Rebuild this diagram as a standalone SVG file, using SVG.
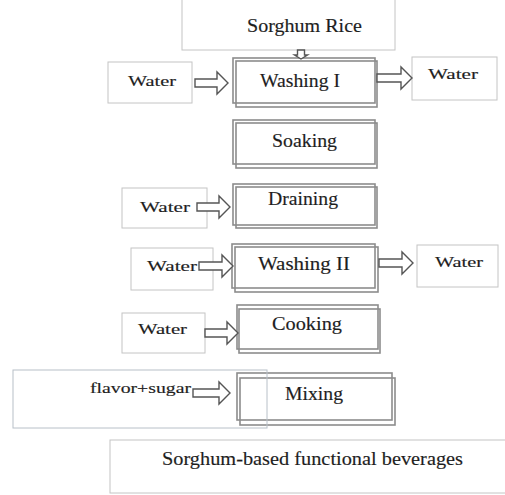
<svg xmlns="http://www.w3.org/2000/svg" width="505" height="495" viewBox="0 0 505 495">
<defs>
<style>
.side{fill:none;stroke:#c4c4c4;stroke-width:1}
.proc{fill:none;stroke:#8c8c8c;stroke-width:1.6}
.arr{fill:#fff;stroke:#555;stroke-width:1.4;stroke-linejoin:miter}
text{font-family:"Liberation Serif","Times New Roman",serif;fill:#1e1e1e;stroke:#1e1e1e;stroke-width:0.15}
.t18{font-size:18px}
.t15{font-size:15px}
.t14{font-size:14px}
</style>
</defs>
<rect width="505" height="495" fill="#fff"/>

<g id="sorghum-rice">
<rect class="side" x="182" y="-1" width="213" height="51"/>
<text class="t18" x="247" y="32" textLength="115" lengthAdjust="spacingAndGlyphs">Sorghum Rice</text>
</g>

<g id="washing1">
<rect class="proc" x="233" y="58" width="142" height="45"/>
<rect class="proc" x="236" y="61" width="141" height="46"/>
<text class="t18" x="260" y="87" textLength="80" lengthAdjust="spacingAndGlyphs">Washing I</text>
</g>
<g id="water-in1">
<rect class="side" x="108" y="62" width="84" height="41"/>
<text class="t15" x="128" y="86" textLength="48" lengthAdjust="spacingAndGlyphs">Water</text>
</g>
<g id="water-out1">
<rect class="side" x="412" y="57" width="85" height="43"/>
<text class="t15" x="428" y="79" textLength="50" lengthAdjust="spacingAndGlyphs">Water</text>
</g>

<g id="soaking">
<rect class="proc" x="233" y="120" width="142" height="44"/>
<rect class="proc" x="236" y="123" width="141" height="45"/>
<text class="t18" x="272" y="147" textLength="65" lengthAdjust="spacingAndGlyphs">Soaking</text>
</g>

<g id="draining">
<rect class="proc" x="233" y="184" width="142" height="41"/>
<rect class="proc" x="236" y="187" width="141" height="41"/>
<text class="t18" x="268" y="205" textLength="70" lengthAdjust="spacingAndGlyphs">Draining</text>
</g>
<g id="water-in2">
<rect class="side" x="122" y="188" width="85" height="40"/>
<text class="t15" x="140" y="212" textLength="50" lengthAdjust="spacingAndGlyphs">Water</text>
</g>

<g id="washing2">
<rect class="proc" x="232" y="244" width="143" height="44"/>
<rect class="proc" x="235" y="247" width="143" height="45"/>
<text class="t18" x="258" y="270" textLength="92" lengthAdjust="spacingAndGlyphs">Washing II</text>
</g>
<g id="water-in3">
<rect class="side" x="131" y="248" width="82" height="42"/>
<text class="t15" x="147" y="271" textLength="50" lengthAdjust="spacingAndGlyphs">Water</text>
</g>
<g id="water-out3">
<rect class="side" x="417" y="245" width="81" height="42"/>
<text class="t15" x="435" y="267" textLength="48" lengthAdjust="spacingAndGlyphs">Water</text>
</g>

<g id="cooking">
<rect class="proc" x="237" y="305" width="141" height="44"/>
<rect class="proc" x="239" y="309" width="141" height="44"/>
<text class="t18" x="272" y="330" textLength="70" lengthAdjust="spacingAndGlyphs">Cooking</text>
</g>
<g id="water-in4">
<rect class="side" x="122" y="313" width="83" height="40"/>
<text class="t15" x="138" y="334" textLength="49" lengthAdjust="spacingAndGlyphs">Water</text>
</g>

<g id="mixing">
<rect class="proc" x="237" y="373" width="155" height="47"/>
<rect class="proc" x="240" y="378" width="155" height="47"/>
<text class="t18" x="285" y="400" textLength="58" lengthAdjust="spacingAndGlyphs">Mixing</text>
</g>
<g id="flavor-sugar">
<rect x="13" y="370" width="254" height="58" fill="none" stroke="#b8c0c8" stroke-width="1"/>
<text class="t14" x="90" y="393" textLength="101" lengthAdjust="spacingAndGlyphs">flavor+sugar</text>
</g>

<g id="beverages">
<rect class="side" x="110" y="440" width="400" height="53"/>
<text class="t18" x="162" y="465" textLength="301" lengthAdjust="spacingAndGlyphs">Sorghum-based  functional beverages</text>
</g>

<g id="connectors">
<path class="arr" d="M297.5,50 H304.5 V55 H307.5 L301,59 L294.5,55 H297.5 Z"/>
<path class="arr" d="M195,79 H217 V72 L228,83 L217,94 V87 H195 Z"/>
<path class="arr" d="M377,74 H401 V67 L412,78 L401,89 V82 H377 Z"/>
<path class="arr" d="M197,203 H219 V196 L230,207 L219,218 V211 H197 Z"/>
<path class="arr" d="M199,262 H222 V255 L233,266 L222,277 V270 H199 Z"/>
<path class="arr" d="M379,259 H402 V252 L413,263 L402,274 V267 H379 Z"/>
<path class="arr" d="M205,329 H227 V322 L238,333 L227,344 V337 H205 Z"/>
<path class="arr" d="M193,389 H219 V382 L230,393 L219,404 V397 H193 Z"/>
</g>
</svg>
